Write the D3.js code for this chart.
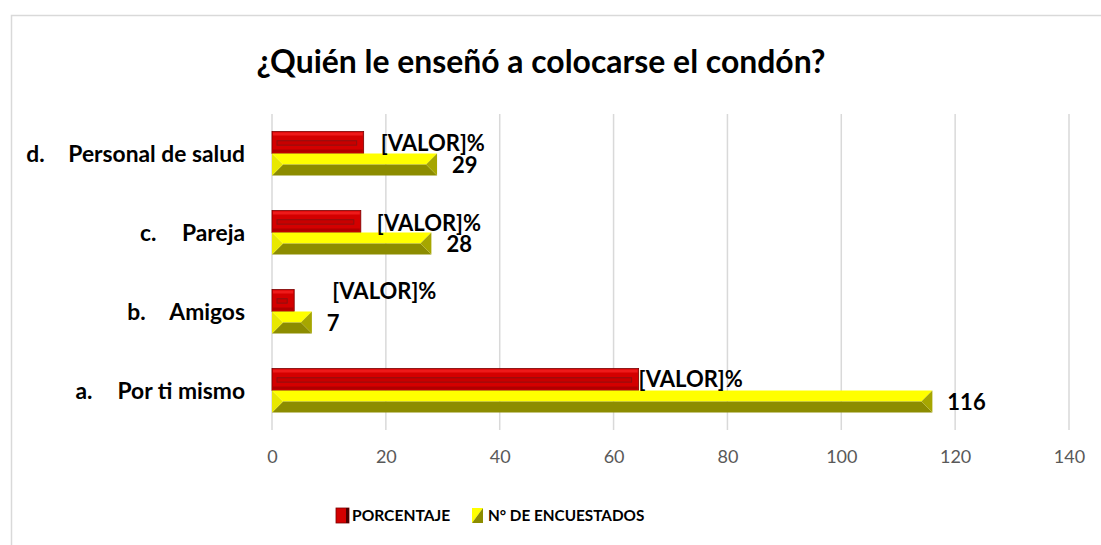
<!DOCTYPE html>
<html>
<head>
<meta charset="utf-8">
<script src="https://cdn.jsdelivr.net/npm/d3@7"></script>
<style>
  body { margin: 0; background: #fff; }
  text { font-family: Lato, "Open Sans", sans-serif; }
</style>
</head>
<body>
<div id="chart"></div>
<script>
// data (top to bottom)
var catLetters = ["d.", "c.", "b.", "a."];
var catNames = ["Personal de salud", "Pareja", "Amigos", "Por ti mismo"];
var porcentaje = [16.1, 15.6, 3.9, 64.4];
var encuestados = [29, 28, 7, 116];
var xTicks = [0, 20, 40, 60, 80, 100, 120, 140];
var seriesNames = ["PORCENTAJE", "N° DE ENCUESTADOS"];
// the percent labels were nudged by hand in the original
var pctNudgeX = [17, 16, 38, 0];
var pctNudgeY = [1, 2, -9, 0];

var W = 1101, H = 545;
var svg = d3.select("#chart").append("svg")
  .attr("width", W)
  .attr("height", H);

svg.append("rect")
  .attr("x", 11.5).attr("y", 15.5)
  .attr("width", 1100).attr("height", 540)
  .attr("fill", "#fff")
  .attr("stroke", "#d9d9d9")
  .attr("stroke-width", 1.5);

svg.append("text")
  .attr("x", 541).attr("y", 73)
  .attr("text-anchor", "middle")
  .attr("font-size", 31.9)
  .attr("font-weight", "bold")
  .attr("fill", "#000")
  .text("¿Quién le enseñó a colocarse el condón?");

var plotL = 272, plotR = 1069, plotT = 114, plotB = 430;

var x = d3.scaleLinear().domain([0, 140]).range([plotL, plotR]);
var y = d3.scaleBand().domain(catNames).range([plotT, plotB])
  .paddingInner(0.443).paddingOuter(0.2215);
var ys = d3.scaleBand().domain(seriesNames).range([0, y.bandwidth()]);

// gridlines
svg.append("g").selectAll("line")
  .data(xTicks)
  .enter().append("line")
  .attr("x1", function(d) { return x(d); })
  .attr("x2", function(d) { return x(d); })
  .attr("y1", plotT).attr("y2", plotB)
  .attr("stroke", "#d9d9d9")
  .attr("stroke-width", 1.5);

// tick labels
var xAxis = d3.axisBottom(x).tickValues(xTicks).tickSize(0).tickPadding(0);
var ga = svg.append("g").attr("transform", "translate(0," + (plotB + 20) + ")").call(xAxis);
ga.select(".domain").remove();
ga.selectAll("text")
  .attr("font-family", "Lato, sans-serif")
  .attr("font-size", 18)
  .attr("fill", "#595959")
  .attr("dy", "0.71em");

// category labels
var cl = svg.append("g").selectAll("g")
  .data(catNames)
  .enter().append("g")
  .attr("transform", function(d) { return "translate(0," + (y(d) + y.bandwidth() / 2) + ")"; });
cl.append("text")
  .attr("x", 245).attr("dy", "0.36em")
  .attr("text-anchor", "end")
  .attr("font-size", 22.8).attr("font-weight", "bold")
  .text(function(d) { return d; })
  .each(function(d, i) {
    var w = this.getComputedTextLength();
    d3.select(this.parentNode).append("text")
      .attr("x", 245 - w - 42).attr("dy", "0.36em")
      .attr("font-size", 22.8).attr("font-weight", "bold")
      .text(catLetters[i]);
  });

function bevel(g, x0, x1, y0, h, cols) {
  var b = h / 2, ym = y0 + h / 2, y1 = y0 + h;
  if (x1 - x0 < h) b = (x1 - x0) / 2;
  g.append("polygon").attr("points", [[x0, y0], [x1, y0], [x1 - b, ym], [x0 + b, ym]].join(" ")).attr("fill", cols[0]);
  g.append("polygon").attr("points", [[x0, y1], [x1, y1], [x1 - b, ym], [x0 + b, ym]].join(" ")).attr("fill", cols[1]);
  g.append("polygon").attr("points", [[x0, y0], [x0 + b, ym], [x0, y1]].join(" ")).attr("fill", cols[2]);
  g.append("polygon").attr("points", [[x1, y0], [x1 - b, ym], [x1, y1]].join(" ")).attr("fill", cols[3]);
}

function redBar(g, x0, x1, y0, h) {
  g.append("rect").attr("x", x0).attr("y", y0).attr("width", x1 - x0).attr("height", h)
    .attr("fill", "#d40000").attr("stroke", "#7a0000").attr("stroke-width", 0.8);
  g.append("rect").attr("x", x0 + 1).attr("y", y0 + 1).attr("width", x1 - x0 - 2).attr("height", 3)
    .attr("fill", "#ee1a1a");
  g.append("rect").attr("x", x0 + 1).attr("y", y0 + h - 4).attr("width", x1 - x0 - 2).attr("height", 3)
    .attr("fill", "#b00000");
  if (x1 - x0 > 12) {
    g.append("rect").attr("x", x0 + 5).attr("y", y0 + h * 0.42).attr("width", x1 - x0 - 12).attr("height", h * 0.2)
      .attr("fill", "#c80000").attr("stroke", "#8e1010").attr("stroke-width", 1);
  } else {
    g.append("rect").attr("x", x0 + 4).attr("y", y0 + h * 0.45).attr("width", 2).attr("height", 2)
      .attr("fill", "#8e1010");
  }
}

var bars = svg.append("g");
catNames.forEach(function(c, i) {
  var g = bars.append("g");
  var yr = y(c) + ys(seriesNames[0]);
  var yy = y(c) + ys(seriesNames[1]);
  var h = ys.bandwidth();
  redBar(g, x(0), x(porcentaje[i]), yr, h);
  bevel(g, x(0), x(encuestados[i]), yy, h, ["#ffff00", "#8c8c00", "#e8e800", "#a6a600"]);

  g.append("text")
    .attr("x", x(porcentaje[i]) + pctNudgeX[i])
    .attr("y", yr + h / 2 + pctNudgeY[i])
    .attr("dy", "0.36em")
    .attr("font-size", 22).attr("font-weight", "bold")
    .text("[VALOR]%");
  g.append("text")
    .attr("x", x(encuestados[i]) + 15)
    .attr("y", yy + h / 2 + 1)
    .attr("dy", "0.36em")
    .attr("font-size", 22).attr("font-weight", "bold")
    .text(encuestados[i]);
});

// legend
var leg = svg.append("g").attr("transform", "translate(336,508)");
leg.append("rect").attr("width", 13).attr("height", 15).attr("fill", "#d40000").attr("stroke", "#7a0000").attr("stroke-width", 0.8);
leg.append("rect").attr("x", 10).attr("width", 3).attr("height", 15).attr("fill", "#4a0000");
leg.append("text").attr("x", 16).attr("y", 7.5).attr("dy", "0.36em")
  .attr("font-size", 15.6).attr("font-weight", "bold").text(seriesNames[0]);
var l2 = leg.append("g").attr("transform", "translate(136,0)");
l2.append("polygon").attr("points", "0,0 11,0 0,15").attr("fill", "#ffff00");
l2.append("polygon").attr("points", "11,0 11,15 0,15").attr("fill", "#8c8c00");
l2.append("text").attr("x", 16).attr("y", 7.5).attr("dy", "0.36em")
  .attr("font-size", 15.3).attr("font-weight", "bold").text(seriesNames[1]);
</script>
</body>
</html>
